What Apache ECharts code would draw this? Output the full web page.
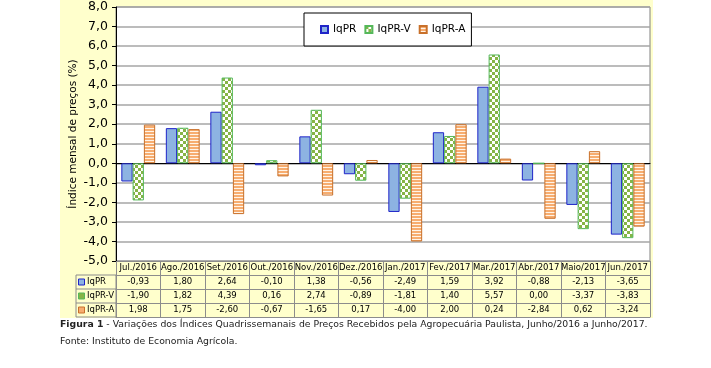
<!DOCTYPE html>
<html><head><meta charset="utf-8">
<script src="https://cdn.jsdelivr.net/npm/echarts@6/dist/echarts.min.js"></script>
<style>html,body{margin:0;padding:0;background:#fff}#c{width:711px;height:368px}</style>
</head><body><div id="c"></div>
<script>
const categories = ['Jul./2016','Ago./2016','Set./2016','Out./2016','Nov./2016','Dez./2016','Jan./2017','Fev./2017','Mar./2017','Abr./2017','Maio/2017','Jun./2017'];
const iqpr  = [-0.93, 1.80, 2.64, -0.10, 1.38, -0.56, -2.49, 1.59, 3.92, -0.88, -2.13, -3.65];
const iqprV = [-1.90, 1.82, 4.39, 0.16, 2.74, -0.89, -1.81, 1.40, 5.57, 0.00, -3.37, -3.83];
const iqprA = [1.98, 1.75, -2.60, -0.67, -1.65, 0.17, -4.00, 2.00, 0.24, -2.84, 0.62, -3.24];
const seriesNames = ['IqPR','IqPR-V','IqPR-A'];
const yTicks = {min:-5, max:8, step:1};

const fmt = v => v.toFixed(2).replace('.', ',');
const FONT = 'DejaVu Sans';

function checker(){
  const c = document.createElement('canvas'); c.width = 6; c.height = 6;
  const g = c.getContext('2d');
  g.fillStyle = '#ffffff'; g.fillRect(0,0,6,6);
  g.fillStyle = '#86b446'; g.fillRect(0,0,3,3); g.fillRect(3,3,3,3);
  return c;
}
function stripes(){
  const c = document.createElement('canvas'); c.width = 4; c.height = 3;
  const g = c.getContext('2d');
  g.fillStyle = '#fff4e8'; g.fillRect(0,0,4,3);
  g.fillStyle = '#f7ad70'; g.fillRect(0,0,4,2);
  return c;
}
const blueStyle = {color:'#8db3e2', borderColor:'#1f24c8', borderWidth:1};
const greenStyle = {color:{image:checker(), repeat:'repeat'}, borderColor:'#55b85a', borderWidth:1};
const orangeStyle = {color:{image:stripes(), repeat:'repeat'}, borderColor:'#c8702a', borderWidth:1};

const G = {left:116, top:7, width:534, height:254};
const rowH = 14;
const rows = [iqpr, iqprV, iqprA];
const TFONT = 8.5;
const lineC = '#8c8c8c';

const xAxes = [
  {type:'category', data:categories, gridIndex:0, position:'bottom',
   axisLine:{onZero:true, lineStyle:{color:'#000', width:1}}, axisTick:{show:false}, axisLabel:{show:false}, splitLine:{show:false}},
  {type:'category', data:categories, gridIndex:0, position:'bottom', offset:0,
   axisLine:{onZero:false, lineStyle:{color:lineC}},
   axisTick:{show:true, length:rowH*4, interval:0, lineStyle:{color:lineC}},
   axisLabel:{interval:0, margin:0, fontSize:TFONT, lineHeight:rowH, color:'#000', fontFamily:FONT}}
];
rows.forEach((arr, r) => {
  xAxes.push({type:'category', data:categories, gridIndex:0, position:'bottom', offset:rowH*(r+1),
    axisLine:{onZero:false, lineStyle:{color:lineC}}, axisTick:{show:false},
    axisLabel:{interval:0, margin:0, fontSize:TFONT, lineHeight:rowH, color:'#000', fontFamily:FONT,
      formatter:(v, i) => fmt(arr[i])}});
});
xAxes.push({type:'category', data:categories, gridIndex:0, position:'bottom', offset:rowH*4,
  axisLine:{onZero:false, lineStyle:{color:lineC}}, axisTick:{show:false}, axisLabel:{show:false}});

const tb = G.top + G.height; // table top
const graphics = [
  {type:'rect', z:-10, silent:true, shape:{x:60, y:0, width:593, height:318}, style:{fill:'#ffffcc'}},
  {type:'rect', shape:{x:76, y:tb+rowH, width:40, height:rowH*3}, style:{fill:'none', stroke:lineC, lineWidth:1}},
  {type:'line', shape:{x1:76, y1:tb+rowH*2, x2:116, y2:tb+rowH*2}, style:{stroke:lineC, lineWidth:1}},
  {type:'line', shape:{x1:76, y1:tb+rowH*3, x2:116, y2:tb+rowH*3}, style:{stroke:lineC, lineWidth:1}},
  {type:'text', left:60, top:320, style:{text:'{b|Figura 1} - Variações dos Índices Quadrissemanais de Preços Recebidos pela Agropecuária Paulista, Junho/2016 a Junho/2017.',
     font:'9.3px "DejaVu Sans"', fill:'#222', rich:{b:{fontWeight:'bold', fontSize:9.3, fontFamily:FONT, fill:'#222'}}}},
  {type:'text', left:60, top:337, style:{text:'Fonte: Instituto de Economia Agrícola.', font:'9.3px "DejaVu Sans"', fill:'#222'}}
];
const keyColors = [['#8db3e2','#1f24c8'],['#86b446','#55b85a'],['#f7ad70','#c8702a']];
seriesNames.forEach((n, r) => {
  const cy = tb + rowH*(r+1) + rowH/2;
  graphics.push({type:'rect', shape:{x:78.5, y:cy-3, width:6, height:6}, style:{fill:keyColors[r][0], stroke:keyColors[r][1], lineWidth:1}});
  graphics.push({type:'text', x:87, y:cy, style:{text:n, font:'8.5px "DejaVu Sans"', fill:'#000', verticalAlign:'middle'}});
});

const chart = echarts.init(document.getElementById('c'), null, {renderer:'canvas'});
chart.setOption({
  animation:false,
  backgroundColor:'#ffffff',
  textStyle:{fontFamily:FONT},
  grid:{left:G.left, top:G.top, width:G.width, height:G.height, show:true, backgroundColor:'#ffffff', borderColor:'#808080', borderWidth:1},
  legend:{left:304, top:13, data:seriesNames, icon:'rect', itemWidth:7, itemHeight:7, itemGap:8,
    backgroundColor:'#fff', borderColor:'#000', borderWidth:1, borderRadius:0, padding:[11,6,11,16],
    textStyle:{fontSize:10.5, color:'#000', fontFamily:FONT}},
  xAxis:xAxes,
  yAxis:{type:'value', min:yTicks.min, max:yTicks.max, interval:yTicks.step,
    name:'Índice mensal de preços (%)', nameLocation:'middle', nameGap:37, nameRotate:90, nameMoveOverlap:false,
    nameTextStyle:{fontSize:10.5, color:'#000', fontFamily:FONT},
    axisLine:{show:true, lineStyle:{color:'#000', width:1}},
    axisTick:{show:true, length:4, lineStyle:{color:'#000'}},
    axisLabel:{margin:8, fontSize:12.5, color:'#000', fontFamily:FONT, formatter:v => v.toFixed(1).replace('.', ',')},
    splitLine:{lineStyle:{color:'#a6a6a6', width:1.5}}},
  series:[
    {name:seriesNames[0], type:'bar', data:iqpr, itemStyle:blueStyle, barGap:'0%', barCategoryGap:'24%'},
    {name:seriesNames[1], type:'bar', data:iqprV, itemStyle:greenStyle, barGap:'0%', barCategoryGap:'24%'},
    {name:seriesNames[2], type:'bar', data:iqprA, itemStyle:orangeStyle, barGap:'0%', barCategoryGap:'24%'}
  ],
  graphic:graphics
});
</script></body></html>
